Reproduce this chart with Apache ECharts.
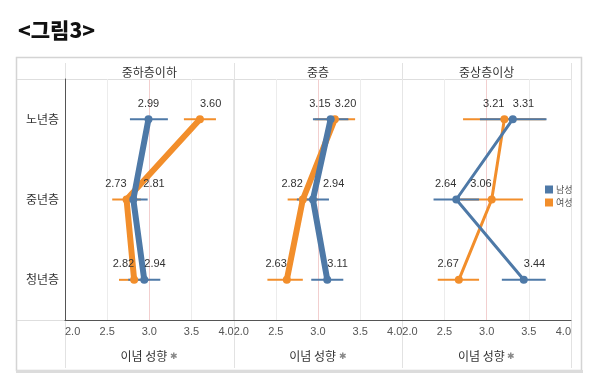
<!DOCTYPE html>
<html><head><meta charset="utf-8">
<script src="https://cdn.jsdelivr.net/npm/echarts@6/dist/echarts.min.js"></script>
<style>html,body{margin:0;padding:0;background:#fff}#c{width:600px;height:387px}</style>
</head><body><div id="c"></div>
<script>
const rows = ['노년층', '중년층', '청년층'];
const panels = ['중하층이하', '중층', '중상층이상'];
const seriesNames = ['남성', '여성'];
const xTicks = [2.0, 2.5, 3.0, 3.5, 4.0];
const maleMean   = [[2.99, 2.81, 2.94], [3.15, 2.94, 3.11], [3.31, 2.64, 3.44]];
const femaleMean = [[3.60, 2.73, 2.82], [3.20, 2.82, 2.63], [3.21, 3.06, 2.67]];
const maleLow    = [[2.77, 2.69, 2.75], [2.94, 2.75, 2.92], [2.92, 2.37, 3.18]];
const maleHigh   = [[3.22, 2.98, 3.13], [3.36, 3.13, 3.30], [3.71, 2.91, 3.70]];
const femaleLow  = [[3.41, 2.56, 2.64], [2.96, 2.64, 2.40], [2.72, 2.69, 2.42]];
const femaleHigh = [[3.79, 2.90, 3.00], [3.44, 3.00, 2.82], [3.70, 3.43, 2.91]];

const FONT = "'Liberation Sans', 'Noto Sans CJK KR', sans-serif";
const KFONT = "'Noto Sans CJK KR', sans-serif";
const colors = ['#4e79a7', '#f28e2b'];
const lineWidths = [6, 6, 3];
const labelOverride = { '0-0-0': 'center', '2-1-1': 'left', '0-1-0': 'right+', '1-1-0': 'right+' };

const gLeft = 65, gRight = 571, gTop = 79, gBottom = 320;
const pw = (gRight - gLeft) / 3;

const grids = [], xAxes = [], yAxes = [], series = [];
for (let p = 0; p < 3; p++) {
  grids.push({ left: gLeft + p * pw, width: pw, top: gTop, height: gBottom - gTop });
  xAxes.push({
    type: 'value', gridIndex: p, min: xTicks[0], max: xTicks[xTicks.length - 1],
    interval: xTicks[1] - xTicks[0],
    axisLine: { show: true, lineStyle: { color: '#555', width: 1 } },
    axisTick: { show: false },
    axisLabel: { color: '#555', fontSize: 11, fontFamily: FONT, margin: 6,
      formatter: v => v.toFixed(1), alignMinLabel: 'left', alignMaxLabel: 'right' },
    splitLine: { show: true, lineStyle: { color: ['#e6e6e6', '#ececec', '#f2cfcf', '#ececec', '#e6e6e6'], width: 1 } },
    name: '이념 성향 {pin|✱}', nameLocation: 'middle', nameGap: 30,
    nameTextStyle: { color: '#333', fontSize: 12, fontFamily: KFONT,
      rich: { pin: { color: '#888', fontSize: 9 } } }
  });
  yAxes.push({
    type: 'category', gridIndex: p, data: rows, inverse: true,
    axisLine: { show: p === 0, lineStyle: { color: '#555', width: 1 } },
    axisTick: { show: false },
    axisLabel: { show: p === 0, color: '#333', fontSize: 12, fontFamily: KFONT, margin: 6 },
    splitLine: { show: false }
  });
  const means = [maleMean[p], femaleMean[p]];
  const lows = [maleLow[p], femaleLow[p]];
  const highs = [maleHigh[p], femaleHigh[p]];
  [1, 0].forEach(s => {
    series.push({
      type: 'custom', name: seriesNames[s], xAxisIndex: p, yAxisIndex: p, z: 2,
      itemStyle: { color: colors[s] },
      encode: { x: [1, 2], y: 0 },
      data: rows.map((r, i) => [i, lows[s][i], highs[s][i]]),
      renderItem: (params, api) => {
        const a = api.coord([api.value(1), api.value(0)]);
        const b = api.coord([api.value(2), api.value(0)]);
        return { type: 'line', shape: { x1: a[0], y1: a[1], x2: b[0], y2: b[1] },
          style: { stroke: colors[s], lineWidth: 2 } };
      },
      silent: true
    });
  });
  [1, 0].forEach(s => {
    const other = means[1 - s];
    series.push({
      type: 'line', name: seriesNames[s], xAxisIndex: p, yAxisIndex: p, z: 3,
      color: colors[s],
      lineStyle: { width: lineWidths[p], color: colors[s] },
      symbol: 'circle', symbolSize: 8,
      itemStyle: { color: colors[s] },
      data: rows.map((r, i) => {
        let side = labelOverride[p + '-' + i + '-' + s] || (means[s][i] < other[i] ? 'left' : 'right');
        const align = side === 'left' ? 'right' : side === 'center' ? 'center' : 'left';
        const off = side === 'right+' ? [10, 0] : [0, 0];
        return { value: [means[s][i], i],
          label: { show: true, position: 'top', distance: 6, align: align, offset: off,
            formatter: means[s][i].toFixed(2), color: '#333', fontSize: 11, fontFamily: FONT } };
      }),
      animation: false
    });
  });
}

const chart = echarts.init(document.getElementById('c'), null, { renderer: 'canvas' });
const vlines = [];
for (let p = 0; p <= 3; p++) {
  const x = Math.round(gLeft + p * pw) + 0.5;
  vlines.push({ type: 'line', shape: { x1: x, y1: 63, x2: x, y2: 368 }, style: { stroke: '#e2e2e2', lineWidth: 1 }, z: 0 });
}
const headers = panels.map((t, p) => ({
  type: 'text', x: gLeft + p * pw + pw / 2, y: 72,
  style: { text: t, fill: '#333', font: "12px " + KFONT, textAlign: 'center', textVerticalAlign: 'middle' }
}));
chart.setOption({
  animation: false,
  textStyle: { fontFamily: FONT },
  grid: grids, xAxis: xAxes, yAxis: yAxes, series: series,
  legend: {
    data: seriesNames, orient: 'vertical', left: 540, top: 180,
    icon: 'rect', itemWidth: 8, itemHeight: 8, itemGap: 4,
    textStyle: { fontSize: 9, color: '#555', fontFamily: KFONT, padding: [0, 0, 0, -2] },
    selectedMode: false
  },
  graphic: [
    { type: 'text', left: 18, top: 20, style: { text: '<그림3>', fill: '#111', font: "900 21px " + KFONT } },
    { type: 'rect', shape: { x: 16.5, y: 57.5, width: 565, height: 313 }, style: { fill: 'none', stroke: '#d4d4d4', lineWidth: 1.5 }, z: 0 },
    { type: 'line', shape: { x1: 16, y1: 371.5, x2: 583, y2: 371.5 }, style: { stroke: '#dcdcdc', lineWidth: 3 }, z: 0 },
    { type: 'line', shape: { x1: 17, y1: 79.5, x2: gRight, y2: 79.5 }, style: { stroke: '#dedede', lineWidth: 1 }, z: 0 },
    { type: 'line', shape: { x1: 17, y1: 320.5, x2: gLeft, y2: 320.5 }, style: { stroke: '#dedede', lineWidth: 1 }, z: 0 },
    ...vlines, ...headers
  ]
});
</script></body></html>
